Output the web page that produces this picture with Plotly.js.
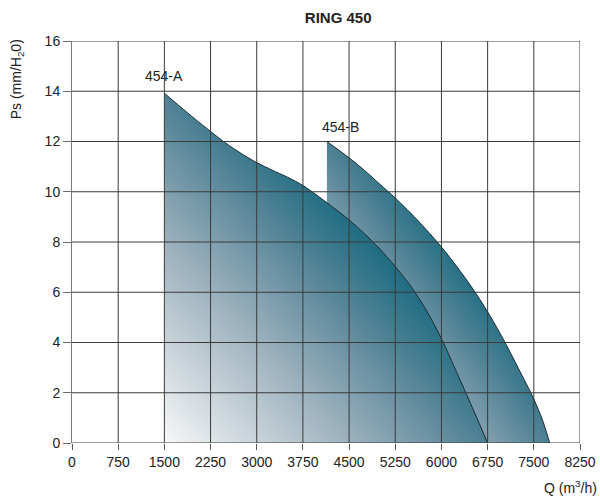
<!DOCTYPE html>
<html>
<head>
<meta charset="utf-8">
<script src="https://cdn.plot.ly/plotly-3.0.1.min.js"></script>
<style>
  html, body { margin: 0; padding: 0; background: #fff; }
  #chart { width: 600px; height: 497px; }
</style>
</head>
<body>
<div id="chart"></div>
<script>
// ---- Data ----
var xTicks = [0, 750, 1500, 2250, 3000, 3750, 4500, 5250, 6000, 6750, 7500, 8250];
var yTicks = [0, 2, 4, 6, 8, 10, 12, 14, 16];

var seriesA_x = [1500, 1750, 2000, 2250, 2500, 2750, 3000, 3250, 3500, 3750, 4000, 4250, 4500, 4750, 5000, 5250, 5500, 5750, 6000, 6250, 6500, 6750];
var seriesA_y = [13.92, 13.40, 12.89, 12.40, 11.93, 11.52, 11.16, 10.86, 10.58, 10.25, 9.82, 9.36, 8.88, 8.33, 7.72, 7.02, 6.25, 5.30, 4.15, 2.80, 1.42, 0];

var seriesB_x = [4140, 4500, 4750, 5000, 5250, 5500, 5750, 6000, 6250, 6500, 6750, 7000, 7250, 7500, 7650, 7758];
var seriesB_y = [12.0, 11.35, 10.85, 10.3, 9.75, 9.15, 8.5, 7.8, 7.02, 6.17, 5.22, 4.15, 2.97, 1.75, 0.85, 0];

var labelA = "454-A", labelA_x = 1500, labelA_y = 14.6;
var labelB = "454-B", labelB_x = 4360, labelB_y = 12.58;

var chartTitle = "RING 450";
var xTitle = "Q (m<sup>3</sup>/h)";
var yTitle = "Ps (mm/H<sub>2</sub>0)";

// ---- Styling ----
var FONT = "Liberation Sans, Arial, Helvetica, sans-serif";
var gradScale = [
  [0.00, "#f7f8f9"],
  [0.14, "#cbd5db"],
  [0.29, "#9cb1bd"],
  [0.40, "#7497a8"],
  [0.50, "#4c8093"],
  [0.60, "#226e83"],
  [0.72, "#11677b"],
  [1.00, "#0b6074"]
];

function areaTrace(xs, ys, uid) {
  return {
    type: "scatter", mode: "lines", uid: uid,
    x: xs, y: ys,
    fill: "tozeroy",
    fillgradient: { type: "horizontal", colorscale: gradScale },
    line: { color: "#1c2a30", width: 1, shape: "spline", smoothing: 0.8 },
    hoverinfo: "skip", showlegend: false
  };
}

var data = [
  areaTrace(seriesB_x, seriesB_y, "curveB"),
  areaTrace(seriesA_x, seriesA_y, "curveA")
];

// Grid lines above the fills, at the tick values
var gridColor = "#3a3a3a";
var shapes = [];
xTicks.forEach(function (t) {
  if (t === xTicks[0]) return;
  shapes.push({ type: "line", xref: "x", yref: "y", x0: t, x1: t, y0: yTicks[0], y1: yTicks[yTicks.length - 1],
    line: { color: gridColor, width: 1 }, layer: "above" });
});
yTicks.forEach(function (t) {
  shapes.push({ type: "line", xref: "x", yref: "y", x0: xTicks[0], x1: xTicks[xTicks.length - 1], y0: t, y1: t,
    line: { color: gridColor, width: 1 }, layer: "above" });
});

var layout = {
  width: 600, height: 497,
  margin: { l: 72, r: 20, t: 41, b: 54, pad: 0 },
  paper_bgcolor: "#ffffff", plot_bgcolor: "#ffffff",
  font: { family: FONT, size: 14, color: "#222" },
  title: {
    text: "<b>" + chartTitle + "</b>",
    font: { family: FONT, size: 15, color: "#222" },
    x: 0.524, xref: "paper", xanchor: "center",
    y: 0.964, yref: "container", yanchor: "middle"
  },
  xaxis: {
    range: [xTicks[0], xTicks[xTicks.length - 1]],
    tickmode: "array", tickvals: xTicks, ticktext: xTicks.map(String),
    showgrid: false, zeroline: false,
    showline: false,
    ticks: "outside", ticklen: 6, tickcolor: "#555", tickwidth: 1,
    tickfont: { family: FONT, size: 14, color: "#222" },
    fixedrange: true
  },
  yaxis: {
    range: [yTicks[0], yTicks[yTicks.length - 1]],
    tickmode: "array", tickvals: yTicks, ticktext: yTicks.map(String),
    showgrid: false, zeroline: false,
    showline: true, linecolor: "#7a7a7a", linewidth: 1,
    ticks: "outside", ticklen: 8, tickcolor: "#666", tickwidth: 1,
    tickfont: { family: FONT, size: 14, color: "#222" },
    fixedrange: true
  },
  shapes: shapes,
  annotations: [
    { text: labelA, x: labelA_x, y: labelA_y, xref: "x", yref: "y", showarrow: false,
      xanchor: "center", yanchor: "middle", font: { family: FONT, size: 14, color: "#222" } },
    { text: labelB, x: labelB_x, y: labelB_y, xref: "x", yref: "y", showarrow: false,
      xanchor: "center", yanchor: "middle", font: { family: FONT, size: 14, color: "#222" } },
    { text: yTitle, textangle: -90, x: -0.108, y: 0.905, xref: "paper", yref: "paper", showarrow: false,
      xanchor: "center", yanchor: "middle", font: { family: FONT, size: 14, color: "#222" } },
    { text: xTitle, x: 1.037, y: -0.109, xref: "paper", yref: "paper", showarrow: false,
      xanchor: "right", yanchor: "middle", font: { family: FONT, size: 14, color: "#222" } }
  ]
};

Plotly.newPlot("chart", data, layout, { staticPlot: true, displayModeBar: false }).then(function (gd) {
  // make each fill's gradient diagonal: light at bottom-left, dark towards top-right
  var grads = gd.querySelectorAll("linearGradient");
  Array.prototype.forEach.call(grads, function (g) {
    g.removeAttribute("gradientUnits");
    g.setAttribute("x1", "1"); g.setAttribute("y1", "0");
    g.setAttribute("x2", "0"); g.setAttribute("y2", "1");
  });
});
</script>
</body>
</html>
